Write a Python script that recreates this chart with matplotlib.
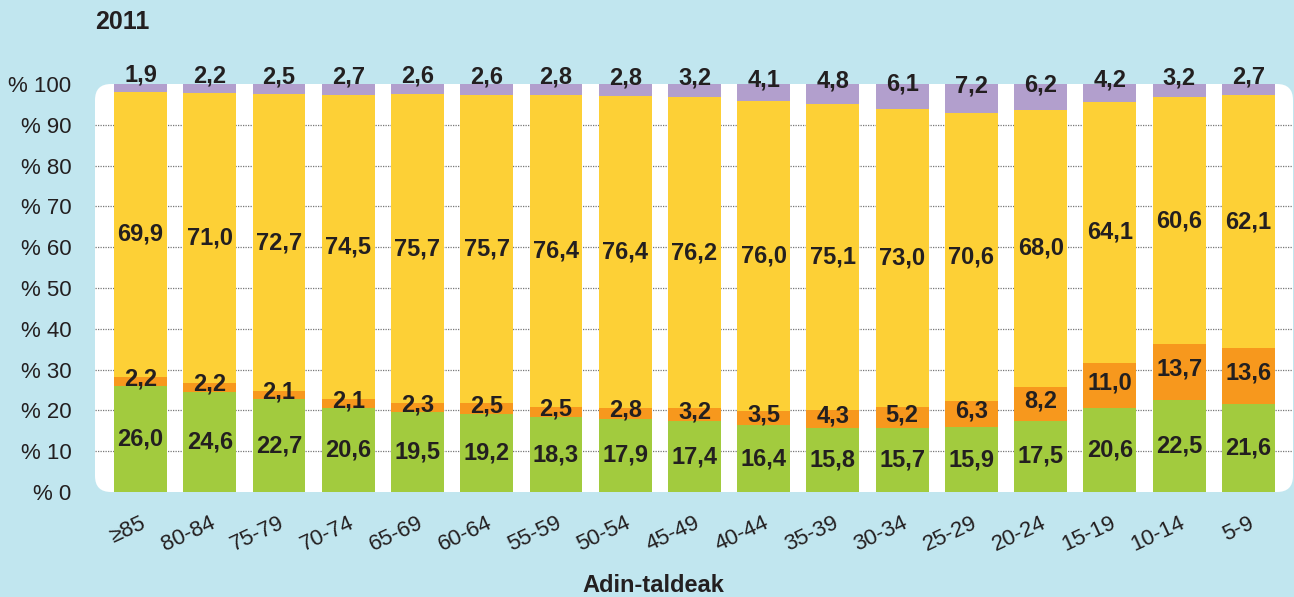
import matplotlib
matplotlib.use('Agg')
import matplotlib.pyplot as plt
from matplotlib.patches import FancyBboxPatch
import matplotlib.transforms as mtransforms
import numpy as np

plt.rcParams['font.family'] = ['Liberation Sans', 'DejaVu Sans']

groups = ['≥85', '80-84', '75-79', '70-74', '65-69', '60-64', '55-59', '50-54',
          '45-49', '40-44', '35-39', '30-34', '25-29', '20-24', '15-19', '10-14', '5-9']
green = [26.0, 24.6, 22.7, 20.6, 19.5, 19.2, 18.3, 17.9, 17.4, 16.4, 15.8, 15.7, 15.9, 17.5, 20.6, 22.5, 21.6]
orange = [2.2, 2.2, 2.1, 2.1, 2.3, 2.5, 2.5, 2.8, 3.2, 3.5, 4.3, 5.2, 6.3, 8.2, 11.0, 13.7, 13.6]
yellow = [69.9, 71.0, 72.7, 74.5, 75.7, 75.7, 76.4, 76.4, 76.2, 76.0, 75.1, 73.0, 70.6, 68.0, 64.1, 60.6, 62.1]
purple = [1.9, 2.2, 2.5, 2.7, 2.6, 2.6, 2.8, 2.8, 3.2, 4.1, 4.8, 6.1, 7.2, 6.2, 4.2, 3.2, 2.7]

bg = '#c1e6ef'
txt = '#231f20'
colors = ['#a2cb3e', '#f7981d', '#fdd036', '#b29fcd']

fig = plt.figure(figsize=(12.94, 5.97), dpi=100, facecolor=bg)
ax = fig.add_axes([95/1294, 1-492/597, (1293-95)/1294, (492-84)/597])
ax.patch.set_visible(False)

# white rounded panel behind the plot
panel = FancyBboxPatch((0.95, 1.05), 12.93-0.95, 5.13-1.05,
                       boxstyle='round,pad=0,rounding_size=0.16',
                       transform=fig.dpi_scale_trans, facecolor='white',
                       edgecolor='none', clip_on=False, zorder=0)
ax.add_patch(panel)

x = np.arange(len(groups))
w = 0.765
bottom = np.zeros(len(groups))
series = [green, orange, yellow, purple]
for i, vals in enumerate(series):
    vals = np.array(vals)
    ax.bar(x, vals, w, bottom=bottom, color=colors[i], zorder=2)
    for xi, b, v in zip(x, bottom, vals):
        lab = f'{v:.1f}'.replace('.', ',')
        c = b + v / 2
        dy = {3: 9, 1: 2}.get(i, 0)
        ax.annotate(lab, (xi, c), xytext=(0, dy), textcoords='offset points',
                    ha='center', va='center', fontsize=17, fontweight='bold',
                    color=txt, zorder=4, annotation_clip=False)
    bottom = bottom + vals

ax.set_xlim(-0.657, 16.643)
ax.set_ylim(0, 100)
ax.set_yticks(np.arange(0, 101, 10))
ax.set_yticklabels([f'% {v}' for v in range(0, 101, 10)], fontsize=16, color=txt)
ax.set_xticks(x)
ax.set_xticklabels(groups, fontsize=16, color=txt, rotation=25,
                   ha='right', va='top', rotation_mode='anchor')
offset = mtransforms.ScaledTranslation(8/100, 0, fig.dpi_scale_trans)
for lbl in ax.get_xticklabels():
    lbl.set_transform(lbl.get_transform() + offset)
ax.tick_params(axis='both', length=0)
ax.tick_params(axis='y', pad=17)
ax.tick_params(axis='x', pad=15)

ax.set_axisbelow(True)
ax.yaxis.grid(True, linestyle=(0, (1, 1)), color='#777777', linewidth=0.9)
for yl in ax.get_ygridlines()[:1] + ax.get_ygridlines()[-1:]:
    yl.set_visible(False)
for s in ax.spines.values():
    s.set_visible(False)

fig.text(653/1294, 1-586/597, 'Adin-taldeak', fontsize=17, fontweight='bold',
         color=txt, ha='center', va='center')
fig.text(95/1294, 1-22/597, '2011', fontsize=18, fontweight='bold', color=txt,
         ha='left', va='center')

fig.savefig('out.png', dpi=100, facecolor=bg)
